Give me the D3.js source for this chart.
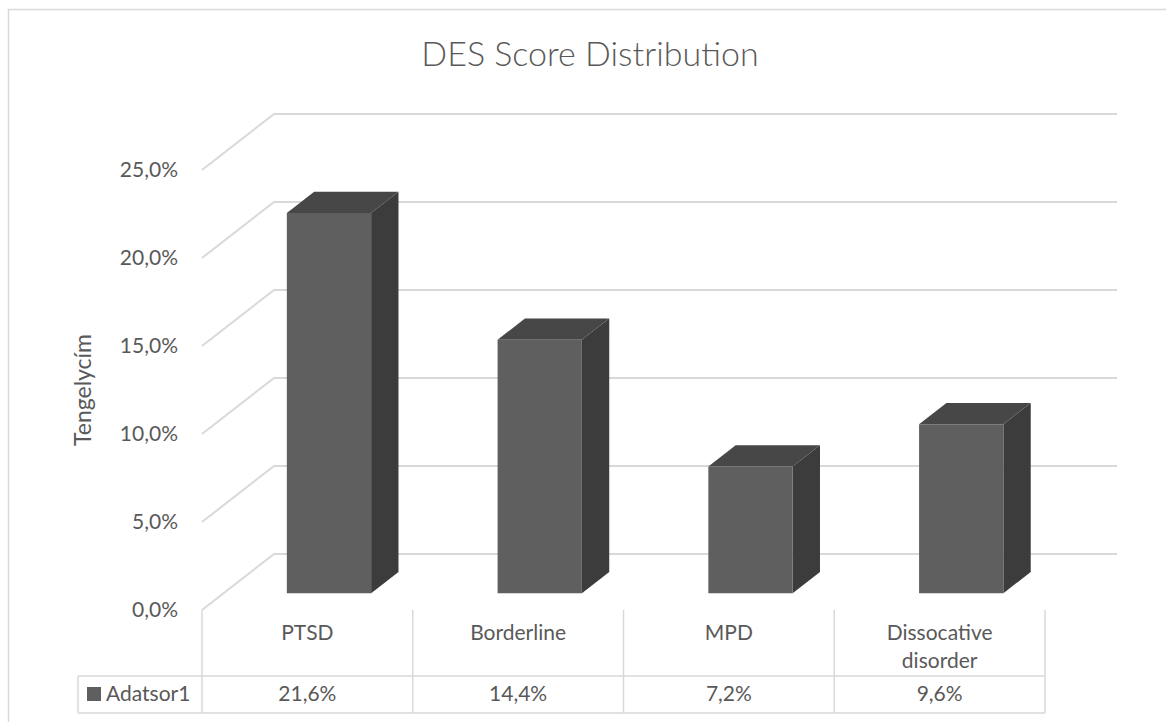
<!DOCTYPE html>
<html>
<head>
<meta charset="utf-8">
<script src="https://cdn.jsdelivr.net/npm/d3@7"></script>
<style>
  body { margin: 0; background: #fff; }
  text { font-family: Lato, "Open Sans", sans-serif; fill: #595959; }
</style>
</head>
<body>
<div id="chart"></div>
<script>
// data
const categories = ["PTSD", "Borderline", "MPD", "Dissocative disorder"];
const values = [0.216, 0.144, 0.072, 0.096];
const yTicks = [0, 0.05, 0.10, 0.15, 0.20, 0.25];
const seriesName = "Adatsor1";
const chartTitle = "DES Score Distribution";
const axisTitle = "Tengelycím";

const width = 1166;
const height = 722;

const svg = d3.select("#chart")
    .append("svg")
    .attr("width", width)
    .attr("height", height);

// outer chart border (runs off the right/bottom edge like the screenshot)
svg.append("rect")
    .attr("x", 8.5).attr("y", 9.5)
    .attr("width", 1180).attr("height", 740)
    .attr("fill", "none")
    .attr("stroke", "#d9d9d9")
    .attr("stroke-width", 1.5);

const locale = d3.formatLocale({ decimal: ",", thousands: " ", grouping: [3], currency: ["", ""] });
const pct = locale.format(".1%");

// front plane scales + depth offset for the 3d look
const x = d3.scaleBand().domain(categories).range([202, 1045]);
const y = d3.scaleLinear().domain([0, 0.25]).range([610, 170]);
const depth = { dx: 72, dy: -56 };
const zFront = 0.30, zBack = 0.68;

function proj(px, py, z) {
    return [px + depth.dx * z, py + depth.dy * z];
}

// gridlines: back wall + left wall diagonal
const grid = svg.append("g")
    .attr("stroke", "#d9d9d9")
    .attr("stroke-width", 2)
    .attr("fill", "none");

yTicks.forEach(function(t) {
    const a = proj(x.range()[0], y(t), 0);
    const b = proj(x.range()[0], y(t), 1);
    const c = proj(x.range()[1], y(t), 1);
    grid.append("path")
        .attr("d", d3.line()([a, b, c]));
});

// tick labels
svg.append("g")
    .selectAll("text")
    .data(yTicks)
    .enter()
    .append("text")
    .attr("x", 178)
    .attr("y", d => y(d))
    .attr("dy", "0.35em")
    .attr("text-anchor", "end")
    .style("font-size", "21px")
    .text(d => pct(d));

// axis title
svg.append("text")
    .attr("transform", "translate(91,390) rotate(-90)")
    .attr("text-anchor", "middle")
    .style("font-size", "23px")
    .text(axisTitle);

// chart title
svg.append("text")
    .attr("x", 590)
    .attr("y", 66)
    .attr("text-anchor", "middle")
    .style("font-size", "34px")
    .style("font-weight", 300)
    .text(chartTitle);

// bars
const barW = x.bandwidth() * 0.40;
const bars = svg.append("g")
    .selectAll("g")
    .data(categories)
    .enter()
    .append("g");

function face(pts) { return d3.line()(pts) + "Z"; }

bars.each(function(cat, i) {
    const g = d3.select(this);
    const cx = x(cat) + x.bandwidth() / 2;
    const x0 = cx - barW / 2, x1 = cx + barW / 2;
    const y0 = y(0), y1 = y(values[i]);

    // side
    g.append("path")
        .attr("d", face([proj(x1, y0, zFront), proj(x1, y0, zBack), proj(x1, y1, zBack), proj(x1, y1, zFront)]))
        .attr("fill", "#3c3c3c");
    // top
    g.append("path")
        .attr("d", face([proj(x0, y1, zFront), proj(x0, y1, zBack), proj(x1, y1, zBack), proj(x1, y1, zFront)]))
        .attr("fill", "#474747");
    // front
    g.append("path")
        .attr("d", face([proj(x0, y0, zFront), proj(x1, y0, zFront), proj(x1, y1, zFront), proj(x0, y1, zFront)]))
        .attr("fill", "#5f5f5f");
});

// data table
const table = svg.append("g")
    .attr("stroke", "#d9d9d9")
    .attr("stroke-width", 1.5)
    .attr("fill", "none");

const rowTop = 676, rowBottom = 713, legendLeft = 78;
table.append("line").attr("x1", legendLeft).attr("x2", x.range()[1]).attr("y1", rowTop).attr("y2", rowTop);
table.append("line").attr("x1", legendLeft).attr("x2", x.range()[1]).attr("y1", rowBottom).attr("y2", rowBottom);
table.append("line").attr("x1", legendLeft).attr("x2", legendLeft).attr("y1", rowTop).attr("y2", rowBottom);

const dividers = categories.map(c => x(c)).concat([x.range()[1]]);
table.selectAll("line.div")
    .data(dividers)
    .enter()
    .append("line")
    .attr("class", "div")
    .attr("x1", d => d).attr("x2", d => d)
    .attr("y1", y(0)).attr("y2", rowBottom);

// category labels (wrapped)
svg.append("g")
    .selectAll("text")
    .data(categories)
    .enter()
    .append("text")
    .attr("x", d => x(d) + x.bandwidth() / 2)
    .attr("y", 640)
    .attr("text-anchor", "middle")
    .style("font-size", "21px")
    .each(function(d) {
        const words = d.split(" ");
        const t = d3.select(this);
        words.forEach(function(w, j) {
            t.append("tspan")
                .attr("x", x(d) + x.bandwidth() / 2)
                .attr("dy", j === 0 ? 0 : 28)
                .text(w);
        });
    });

// values row
svg.append("g")
    .selectAll("text")
    .data(values)
    .enter()
    .append("text")
    .attr("x", (d, i) => x(categories[i]) + x.bandwidth() / 2)
    .attr("y", 701)
    .attr("text-anchor", "middle")
    .style("font-size", "21px")
    .text(d => pct(d));

// legend key + series name
svg.append("rect")
    .attr("x", 87).attr("y", 687)
    .attr("width", 14).attr("height", 14)
    .attr("fill", "#5f5f5f");

svg.append("text")
    .attr("x", 106)
    .attr("y", 701)
    .style("font-size", "21px")
    .text(seriesName);
</script>
</body>
</html>
